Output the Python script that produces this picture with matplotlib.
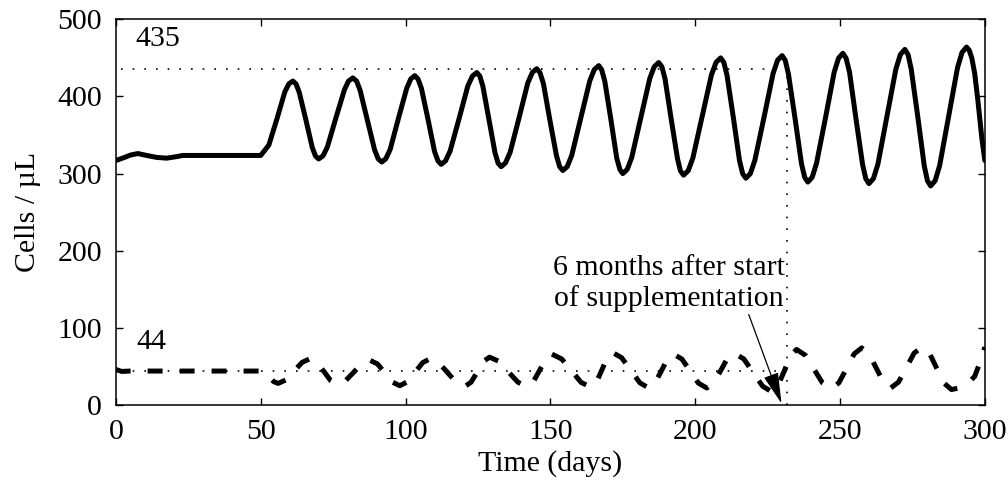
import matplotlib
matplotlib.use("Agg")
import matplotlib.pyplot as plt

# solid curve (upper population)
solid_days = [0, 3, 5, 7.6, 10, 14, 17.5, 21, 23, 50,
              52.8, 55.6, 58.3, 59.7, 61.1, 62.2, 63.3, 65.6, 67.8, 68.9, 70.0,
              71.5, 73.0, 75.9, 78.9, 80.3, 81.8, 83.1, 84.3, 86.8, 89.3, 90.55, 91.8,
              93.2, 94.7, 97.5, 100.4, 101.8, 103.2, 104.3, 105.5, 107.8, 110.0, 111.2, 112.3,
              113.8, 115.4, 118.5, 121.5, 123.1, 124.6, 125.65, 126.7, 128.8, 130.9, 131.95, 133.0,
              134.5, 136.1, 139.2, 142.2, 143.8, 145.3, 146.4, 147.6, 149.8, 152.1, 153.2, 154.3,
              155.85, 157.4, 160.5, 163.6, 165.15, 166.7, 167.7, 168.8, 170.9, 172.9, 174.0, 175.0,
              176.55, 178.1, 181.2, 184.3, 185.85, 187.4, 188.5, 189.6, 191.7, 193.9, 194.9, 196.0,
              197.6, 199.2, 202.4, 205.6, 207.2, 208.8, 209.9, 211.0, 213.2, 215.3, 216.4, 217.5,
              219.05, 220.6, 223.8, 226.9, 228.45, 230.0, 231.1, 232.2, 234.5, 236.7, 237.8, 238.9,
              240.4, 241.9, 245.0, 248.0, 249.5, 251.0, 252.1, 253.3, 255.5, 257.8, 258.9, 260.0,
              261.55, 263.1, 266.2, 269.3, 270.85, 272.4, 273.5, 274.6, 276.9, 279.1, 280.2, 281.3,
              282.85, 284.4, 287.5, 290.6, 292.15, 293.7, 294.6, 295.5, 296.5, 297.6, 299, 300]
solid_vals = [317, 321, 324, 326, 324, 321, 320, 322, 323.5, 323.5,
              337, 371, 405.7, 416.3, 420, 416.2, 405.3, 369.5, 333.7, 322.8, 319,
              323, 334.3, 371.5, 408.7, 420, 424, 419.9, 408.1, 369.5, 330.9, 319.1, 315,
              319.3, 331.4, 371, 410.6, 422.7, 427, 422.6, 410.2, 369.5, 328.8, 316.4, 312,
              316.5, 329.4, 371.5, 413.6, 426.5, 431, 426.4, 413.2, 370, 326.8, 313.6, 309,
              313.8, 327.5, 372.5, 417.5, 431.2, 436, 431, 416.7, 370, 323.3, 309, 304,
              309.2, 323.9, 372, 420.1, 434.8, 440, 434.7, 419.6, 370, 320.4, 305.3, 300,
              305.5, 321, 372, 423, 438.5, 444, 438.5, 422.7, 371, 319.3, 303.5, 298,
              303.8, 320.2, 374, 427.8, 444.2, 450, 444.1, 427.2, 372, 316.8, 299.9, 294,
              300, 317.2, 373.5, 429.8, 447, 453, 446.8, 429.1, 371, 312.9, 295.2, 289,
              295.3, 313.4, 372.5, 431.6, 449.7, 456, 449.6, 431.3, 371.5, 311.7, 293.4, 287,
              293.6, 312.4, 374, 435.6, 454.4, 461, 454.3, 435.2, 372.5, 309.8, 290.7, 284,
              290.8, 310.3, 374, 437.7, 457.2, 464, 460, 450, 430, 395, 345, 317]

# dashed curve (lower population)
dashed_days = [0, 2, 5, 50,
               51.5, 53, 54.5, 56, 58.8, 61.5, 64.3, 67,
               69.4, 71.8, 74.1, 76.5, 79.3, 82.1, 84.9, 87.7,
               90.3, 92.9, 95.4, 98, 100.6, 103.3, 105.9, 108.5,
               111.5, 114.5, 117.5, 120.5, 122.6, 124.8, 126.9, 129,
               132.3, 135.5, 138.8, 142, 144.1, 146.3, 148.4, 150.5,
               153.9, 157.3, 160.6, 164, 165.9, 167.8, 169.6, 171.5,
               174.6, 177.8, 180.9, 184, 186.1, 188.3, 190.4, 192.5,
               195.4, 198.3, 201.1, 204, 206.4, 208.8, 211.1, 213.5,
               216.8, 220, 223.3, 226.5, 228.6, 230.8, 232.9, 235,
               238, 241, 244, 247, 249.6, 252.3, 254.9, 257.5,
               260, 262.5, 265, 267.5, 270.2, 272.9, 275.6, 278.3,
               280.9, 283.4, 286, 288.5, 291, 294, 296.5, 298, 300]
dashed_vals = [46, 43.5, 44, 44,
               41.7, 36, 30.3, 28, 32.7, 44, 55.3, 60,
               55.2, 43.5, 31.8, 27, 31.5, 42.5, 53.5, 58,
               53.2, 41.5, 29.8, 25, 30.1, 42.5, 54.9, 60,
               54.7, 42, 29.3, 24, 29.5, 43, 56.5, 62,
               56.5, 43, 29.5, 24, 30.1, 45, 59.9, 66,
               59.7, 44.5, 29.3, 23, 29.6, 45.5, 61.4, 68,
               61.3, 45, 28.7, 22, 28.4, 44, 59.6, 66,
               59.6, 44, 28.4, 22, 28.6, 44.5, 60.4, 67,
               59.7, 42, 24.3, 17, 25, 44.5, 64, 72,
               64.6, 46.5, 28.4, 21, 28.7, 47.5, 66.3, 74,
               66.4, 48, 29.6, 22, 29.7, 48.5, 67.3, 75,
               67, 47.5, 28, 20, 22, 28, 37, 52, 75]

level_hi = 435
level_lo = 44
marker_day = 231.8

plt.rcParams['font.family'] = ['Liberation Serif', 'DejaVu Serif']
plt.rcParams['font.size'] = 21.5

fig = plt.figure(figsize=(10.08, 4.83), dpi=100)
ax = fig.add_axes([0.115, 0.1615, 0.862, 0.7985])

ax.plot(solid_days, solid_vals, color='black', lw=3.6,
        solid_joinstyle='round', solid_capstyle='round')
ax.plot(dashed_days, dashed_vals, color='black', lw=3.6, dashes=(3.0, 3.4),
        dash_joinstyle='round')

# reference levels and marker
ax.plot([0, marker_day], [level_hi, level_hi], color='black', lw=1.2, linestyle=(4, (1, 6)))
ax.plot([0, marker_day], [level_lo, level_lo], color='black', lw=1.2, linestyle=(4, (1, 6)))
ax.plot([marker_day, marker_day], [0, level_hi], color='black', lw=1.2, linestyle=(0, (1, 6)))

ax.text(6.6, 474, '435', ha='left', va='center')
ax.text(6.9, 82, '44', ha='left', va='center')

ax.annotate('6 months after start\nof supplementation', xy=(229.8, 2), xytext=(190.9, 158),
            ha='center', va='center', multialignment='center',
            arrowprops=dict(arrowstyle='-|>,head_length=0.9,head_width=0.22', color='black',
                            lw=0.9, shrinkA=0, shrinkB=0, relpos=(0.84, 0.0)))

ax.set_xlim(0, 300)
ax.set_ylim(0, 500)
ax.set_xticks([0, 50, 100, 150, 200, 250, 300])
ax.set_yticks([0, 100, 200, 300, 400, 500])
ax.tick_params(direction='in', length=5, width=1, top=True, right=True, pad=10)
for s in ax.spines.values():
    s.set_linewidth(1.1)

ax.set_xlabel('Time (days)', labelpad=4)
ax.set_ylabel('Cells / µL', labelpad=12)

plt.savefig('out.png', dpi=100)
